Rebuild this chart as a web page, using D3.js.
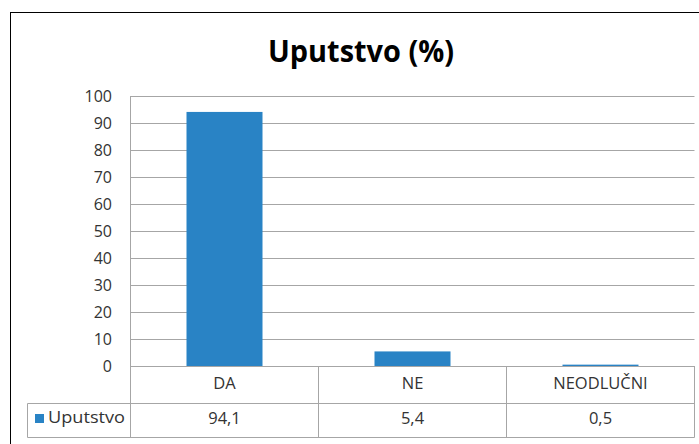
<!DOCTYPE html>
<html><head><meta charset="utf-8">
<script src="https://cdn.jsdelivr.net/npm/d3@7"></script>
<style>body{margin:0;background:#fff;} svg{display:block;font-family:"Open Sans",sans-serif;}</style>
</head><body>
<script>
const categories = ["DA", "NE", "NEODLUČNI"];
const values = [94.1, 5.4, 0.5];
const valueLabels = ["94,1", "5,4", "0,5"];
const seriesName = "Uputstvo";
const yTicks = [0,10,20,30,40,50,60,70,80,90,100];
const title = "Uputstvo (%)";

const W = 699, H = 444;
const svg = d3.select("body").append("svg").attr("width", W).attr("height", H);
svg.append("rect").attr("x", 10.5).attr("y", 12.5).attr("width", 700).attr("height", 440)
  .attr("fill", "#fff").attr("stroke", "#000").attr("stroke-width", 1);

const pl = 130.5, pr = 694.5, pt = 96, pb = 366;
const x = d3.scaleBand().domain(categories).range([pl, pr]).paddingInner(0).paddingOuter(0);
const y = d3.scaleLinear().domain([0, 100]).range([pb, pt]);
const gray = "#a6a6a6";

// bars
const bw = 76;
svg.append("g").selectAll("rect").data(values).join("rect")
  .attr("x", (d, i) => x(categories[i]) + x.bandwidth() / 2 - bw / 2)
  .attr("width", bw)
  .attr("y", d => y(d)).attr("height", d => y(0) - y(d))
  .attr("fill", "#2983c5");

// gridlines
svg.append("g").selectAll("line").data(yTicks).join("line")
  .attr("x1", pl).attr("x2", pr)
  .attr("y1", d => Math.round(y(d)) + 0.5).attr("y2", d => Math.round(y(d)) + 0.5)
  .attr("stroke", gray).attr("stroke-width", 1)
  .attr("opacity", d => d === 0 ? 1 : 1);
svg.append("line").attr("x1", pl).attr("x2", pl).attr("y1", pt).attr("y2", 437)
  .attr("stroke", gray);
// redraw bars above non-zero gridlines
svg.selectAll("g").filter((d, i) => i === 0).raise();
svg.append("line").attr("x1", pl).attr("x2", pr).attr("y1", pb + 0.5).attr("y2", pb + 0.5).attr("stroke", gray);

// y axis labels
const yAxis = d3.axisLeft(y).tickValues(yTicks).tickSize(0).tickPadding(0);
const gy = svg.append("g").attr("transform", `translate(112,0)`).call(yAxis);
gy.select(".domain").remove();
gy.selectAll("text").attr("font-size", 16).attr("fill", "#333").attr("font-family", "Open Sans, sans-serif")
  .attr("dy", "0.35em");

// data table
const rowMid = 403.5, rowBot = 437.5, legL = 27.5;
const tg = svg.append("g").attr("stroke", gray).attr("fill", "none");
tg.append("line").attr("x1", legL).attr("x2", pr).attr("y1", rowMid).attr("y2", rowMid);
tg.append("line").attr("x1", legL).attr("x2", pr).attr("y1", rowBot).attr("y2", rowBot);
tg.append("line").attr("x1", legL).attr("x2", legL).attr("y1", rowMid).attr("y2", rowBot);
tg.selectAll("line.sep").data(categories).join("line").attr("class", "sep")
  .attr("x1", (d) => x(d) + x.bandwidth()).attr("x2", (d) => x(d) + x.bandwidth())
  .attr("y1", pb).attr("y2", rowBot);

svg.append("g").selectAll("text").data(categories).join("text")
  .attr("x", d => x(d) + x.bandwidth() / 2).attr("y", 385)
  .attr("text-anchor", "middle").attr("dominant-baseline", "middle")
  .attr("font-size", 16.5).attr("fill", "#333").text(d => d);
svg.append("g").selectAll("text").data(valueLabels).join("text")
  .attr("x", (d, i) => x(categories[i]) + x.bandwidth() / 2).attr("y", 420)
  .attr("text-anchor", "middle").attr("dominant-baseline", "middle")
  .attr("font-size", 16.5).attr("fill", "#333").text(d => d);

svg.append("rect").attr("x", 35).attr("y", 414).attr("width", 9).attr("height", 9).attr("fill", "#2983c5");
svg.append("text").attr("x", 48).attr("y", 419).attr("dominant-baseline", "middle")
  .attr("font-size", 16).attr("fill", "#333").attr("textLength", 77).attr("lengthAdjust", "spacingAndGlyphs").text(seriesName);

svg.append("text").attr("x", 361).attr("y", 62).attr("text-anchor", "middle")
  .attr("font-size", 30).attr("font-weight", "bold").attr("fill", "#000")
  .attr("textLength", 186).attr("lengthAdjust", "spacingAndGlyphs").text(title);
</script>
</body></html>
